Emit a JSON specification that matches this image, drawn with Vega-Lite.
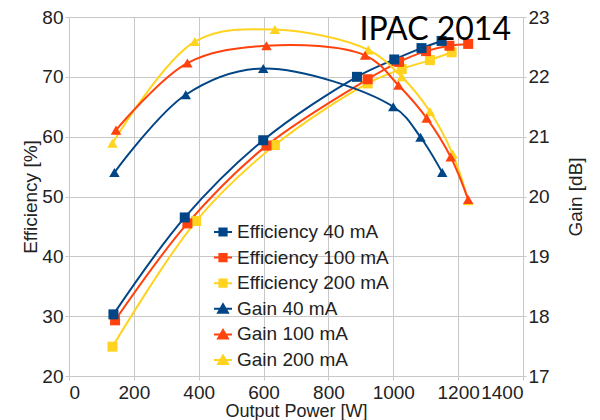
{
  "$schema": "https://vega.github.io/schema/vega-lite/v6.json",
  "width": 454,
  "height": 359,
  "autosize": {"type": "none"},
  "padding": {"left": 69, "top": 17, "right": 77, "bottom": 44},
  "background": "white",
  "title": {
    "text": "IPAC 2014",
    "anchor": "end",
    "frame": "group",
    "dx": -12,
    "offset": -39,
    "font": "Lato",
    "fontSize": 32,
    "fontWeight": "normal",
    "color": "#000000"
  },
  "config": {
    "view": {"stroke": null},
    "axis": {
      "labelFont": "Liberation Sans",
      "labelFontSize": 19,
      "labelColor": "#222222",
      "labelOverlap": false,
      "titleFont": "Liberation Sans",
      "titleFontSize": 19,
      "titleFontWeight": "normal",
      "titleColor": "#222222",
      "gridColor": "#c8c8c8",
      "gridWidth": 1,
      "domainColor": "#c8c8c8",
      "tickColor": "#c8c8c8",
      "tickSize": 4
    },
    "legend": {
      "labelFont": "Liberation Sans",
      "labelFontSize": 19,
      "labelColor": "#222222"
    }
  },
  "data": {
    "values": [
      {"series": "Gain 200 mA", "kind": "Gain", "power": 134, "value": 20.89},
      {"series": "Gain 200 mA", "kind": "Gain", "power": 388, "value": 22.59},
      {"series": "Gain 200 mA", "kind": "Gain", "power": 635, "value": 22.79},
      {"series": "Gain 200 mA", "kind": "Gain", "power": 923, "value": 22.45},
      {"series": "Gain 200 mA", "kind": "Gain", "power": 1026, "value": 22.0},
      {"series": "Gain 200 mA", "kind": "Gain", "power": 1113, "value": 21.42},
      {"series": "Gain 200 mA", "kind": "Gain", "power": 1183, "value": 20.71},
      {"series": "Gain 200 mA", "kind": "Gain", "power": 1231, "value": 19.93},
      {"series": "Gain 100 mA", "kind": "Gain", "power": 145, "value": 21.11},
      {"series": "Gain 100 mA", "kind": "Gain", "power": 365, "value": 22.23},
      {"series": "Gain 100 mA", "kind": "Gain", "power": 609, "value": 22.52},
      {"series": "Gain 100 mA", "kind": "Gain", "power": 913, "value": 22.36},
      {"series": "Gain 100 mA", "kind": "Gain", "power": 1016, "value": 21.86},
      {"series": "Gain 100 mA", "kind": "Gain", "power": 1103, "value": 21.31},
      {"series": "Gain 100 mA", "kind": "Gain", "power": 1177, "value": 20.66},
      {"series": "Gain 100 mA", "kind": "Gain", "power": 1231, "value": 19.95},
      {"series": "Gain 40 mA", "kind": "Gain", "power": 140, "value": 20.4},
      {"series": "Gain 40 mA", "kind": "Gain", "power": 360, "value": 21.7},
      {"series": "Gain 40 mA", "kind": "Gain", "power": 599, "value": 22.14},
      {"series": "Gain 40 mA", "kind": "Gain", "power": 1000, "value": 21.5},
      {"series": "Gain 40 mA", "kind": "Gain", "power": 1084, "value": 20.99},
      {"series": "Gain 40 mA", "kind": "Gain", "power": 1151, "value": 20.4},
      {"series": "Efficiency 200 mA", "kind": "Efficiency", "power": 134, "value": 24.9},
      {"series": "Efficiency 200 mA", "kind": "Efficiency", "power": 392, "value": 45.9},
      {"series": "Efficiency 200 mA", "kind": "Efficiency", "power": 635, "value": 58.6},
      {"series": "Efficiency 200 mA", "kind": "Efficiency", "power": 921, "value": 68.9},
      {"series": "Efficiency 200 mA", "kind": "Efficiency", "power": 1026, "value": 71.3},
      {"series": "Efficiency 200 mA", "kind": "Efficiency", "power": 1113, "value": 72.8},
      {"series": "Efficiency 200 mA", "kind": "Efficiency", "power": 1180, "value": 74.1},
      {"series": "Efficiency 100 mA", "kind": "Efficiency", "power": 142, "value": 29.3},
      {"series": "Efficiency 100 mA", "kind": "Efficiency", "power": 365, "value": 45.5},
      {"series": "Efficiency 100 mA", "kind": "Efficiency", "power": 609, "value": 58.5},
      {"series": "Efficiency 100 mA", "kind": "Efficiency", "power": 921, "value": 69.6},
      {"series": "Efficiency 100 mA", "kind": "Efficiency", "power": 1018, "value": 72.5},
      {"series": "Efficiency 100 mA", "kind": "Efficiency", "power": 1101, "value": 74.3},
      {"series": "Efficiency 100 mA", "kind": "Efficiency", "power": 1173, "value": 75.2},
      {"series": "Efficiency 100 mA", "kind": "Efficiency", "power": 1231, "value": 75.5},
      {"series": "Efficiency 40 mA", "kind": "Efficiency", "power": 137, "value": 30.3},
      {"series": "Efficiency 40 mA", "kind": "Efficiency", "power": 357, "value": 46.5},
      {"series": "Efficiency 40 mA", "kind": "Efficiency", "power": 599, "value": 59.4},
      {"series": "Efficiency 40 mA", "kind": "Efficiency", "power": 888, "value": 70.0},
      {"series": "Efficiency 40 mA", "kind": "Efficiency", "power": 1003, "value": 72.9},
      {"series": "Efficiency 40 mA", "kind": "Efficiency", "power": 1087, "value": 74.8},
      {"series": "Efficiency 40 mA", "kind": "Efficiency", "power": 1149, "value": 76.0}
    ]
  },
  "encoding": {
    "x": {
      "field": "power",
      "type": "quantitative",
      "scale": {"domain": [0, 1400], "nice": false},
      "axis": {
        "title": "Output Power [W]",
        "values": [0, 200, 400, 600, 800, 1000, 1200, 1400],
        "format": "d",
        "labelPadding": 3,
        "titlePadding": 0,
        "titleFontSize": 18,
        "domain": false
      }
    },
    "color": {
      "field": "series",
      "type": "nominal",
      "scale": {
        "domain": ["Efficiency 40 mA", "Efficiency 100 mA", "Efficiency 200 mA", "Gain 40 mA", "Gain 100 mA", "Gain 200 mA"],
        "range": ["#004586", "#ff420e", "#ffd320", "#004586", "#ff420e", "#ffd320"]
      },
      "legend": {
        "title": null,
        "orient": "none",
        "legendX": 144,
        "legendY": 205,
        "padding": 0,
        "rowPadding": 5.6,
        "symbolSize": 324,
        "labelOffset": 4,
        "labelExpr": "indexof(datum.label, 'Eff') == 0 ? '\u00a0' + datum.label : datum.label",
        "encode": {
          "symbols": {
            "update": {
              "shape": {"signal": "indexof(datum.label, 'Gain') == 0 ? 'M-1,0H1M0,-0.5L0.55,0.45H-0.55Z' : 'M-1,0H1M-0.4,-0.4H0.4V0.4H-0.4Z'"},
              "fill": {"scale": "color", "field": "value"},
              "stroke": {"scale": "color", "field": "value"},
              "strokeWidth": {"value": 2},
              "fillOpacity": {"value": 1},
              "opacity": {"value": 1}
            }
          }
        }
      }
    }
  },
  "layer": [
    {
      "transform": [{"filter": "datum.kind == 'Efficiency'"}],
      "encoding": {
        "y": {
          "field": "value",
          "type": "quantitative",
          "scale": {"domain": [20, 80], "nice": false, "zero": false},
          "axis": {
            "title": "Efficiency [%]",
            "orient": "left",
            "values": [20, 30, 40, 50, 60, 70, 80],
            "labelPadding": 2,
            "titlePadding": 1
          }
        }
      },
      "layer": [
        {"mark": {"type": "line", "interpolate": "catmull-rom", "strokeWidth": 2}},
        {"mark": {"type": "point", "shape": "square", "filled": true, "size": 100, "opacity": 1}}
      ]
    },
    {
      "transform": [{"filter": "datum.kind == 'Gain'"}],
      "encoding": {
        "y": {
          "field": "value",
          "type": "quantitative",
          "scale": {"domain": [17, 23], "nice": false, "zero": false},
          "axis": {
            "title": "Gain [dB]",
            "orient": "right",
            "values": [17, 18, 19, 20, 21, 22, 23],
            "grid": false,
            "tickSize": 3,
            "labelPadding": 2,
            "titlePadding": 36,
            "titleAngle": 270
          }
        }
      },
      "layer": [
        {"mark": {"type": "line", "interpolate": "catmull-rom", "strokeWidth": 2}},
        {"mark": {"type": "point", "shape": "triangle-up", "filled": true, "size": 110, "opacity": 1}}
      ]
    }
  ],
  "resolve": {"scale": {"y": "independent"}}
}
